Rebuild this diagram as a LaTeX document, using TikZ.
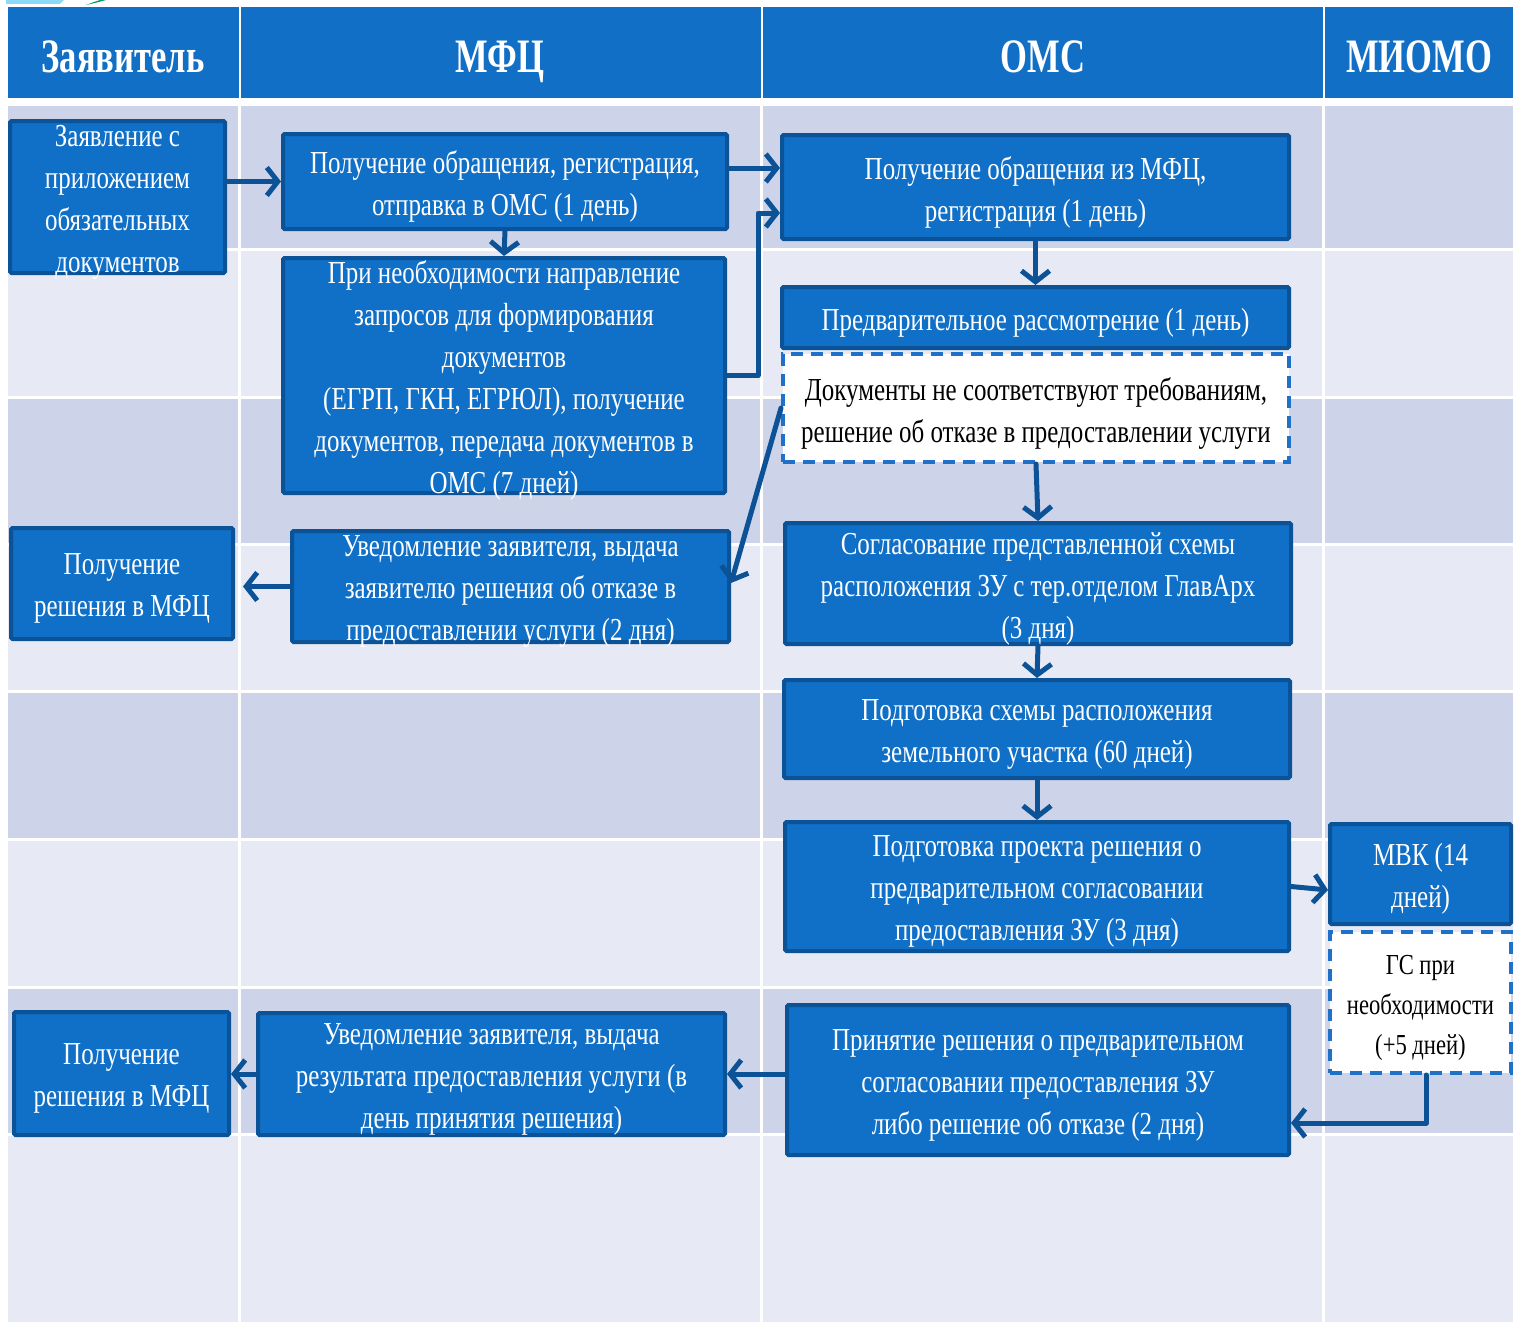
\documentclass[tikz,border=0pt]{standalone}
\usepackage{fontspec}
\setmainfont{Liberation Serif}[FakeStretch=0.78]
\newfontfamily\hdrfont{Liberation Serif}[FakeStretch=0.72]
\usetikzlibrary{arrows.meta}
\definecolor{hdrblue}{RGB}{17,112,198}
\definecolor{boxblue}{RGB}{16,111,199}
\definecolor{boxedge}{RGB}{12,82,150}
\definecolor{dashblue}{RGB}{30,112,200}
\definecolor{banddark}{RGB}{205,212,234}
\definecolor{bandlight}{RGB}{231,234,245}
\tikzset{
  box/.style={draw=boxedge, fill=boxblue, line width=4pt, rounded corners=1.5pt, inner sep=0pt},
  dbox/.style={draw=dashblue, fill=white, line width=4pt, dash pattern=on 12pt off 8pt, inner sep=0pt},
  btext/.style={text=white, align=center, inner sep=0pt, yshift=-5pt, font=\fontsize{32}{42}\selectfont},
  dtext/.style={text=black, align=center, inner sep=0pt, yshift=-5pt, font=\fontsize{32}{42}\selectfont},
  htext/.style={text=white, anchor=base, font=\hdrfont\bfseries\fontsize{48}{52}\selectfont},
  arr/.style={draw=boxedge, line width=5pt, line cap=round, line join=round,
    -{Straight Barb[length=11pt,width=28pt]}},
}
\begin{document}
\begin{tikzpicture}[x=1pt,y=-1pt]
\useasboundingbox (0,0) rectangle (1523,1322);
\fill[white] (0,0) rectangle (1523,1322);
% top-left artifact
\fill[cyan!45!white] (6,0) -- (64,0) -- (60,4) -- (6,4) -- cycle;
\fill[teal!80!green] (86,5) .. controls (95,3) .. (106,0) -- (100,0) .. controls (94,2) .. (86,5) -- cycle;
% header
\foreach \a/\b in {8/238.5,240.5/760.5,762.5/1322.5,1324.5/1513}{
  \fill[hdrblue] (\a,7) rectangle (\b,98);
}
% bands
\foreach \t/\u/\c in {106/249.5/banddark,249.5/397.5/bandlight,397.5/544.5/banddark,544.5/691.5/bandlight,691.5/839.5/banddark,839.5/987.5/bandlight,987.5/1134.5/banddark,1134.5/1322/bandlight}{
  \fill[\c] (8,\t) rectangle (1513,\u);
}
\foreach \y in {249.5,397.5,544.5,691.5,839.5,987.5,1134.5}{
  \draw[white, line width=2.5pt] (8,\y) -- (1513,\y);
}
\foreach \x in {239.5,761.5,1323.5}{
  \draw[white, line width=2.5pt] (\x,106) -- (\x,1322);
}
% header text
\node[htext] (h1) at (123,73) {Заявитель};
\node[htext] (h2) at (500,73) {МФЦ};
\node[htext] (h3) at (1043,73) {ОМС};
\node[htext] (h4) at (1419,73) {МИОМО};

% boxes
\node[box, minimum width=215, minimum height=152] (A) at (117.5,197) {};
\node[box, minimum width=444, minimum height=95] (B) at (505,181.5) {};
\node[box, minimum width=442, minimum height=235] (C) at (504,375.5) {};
\node[box, minimum width=507, minimum height=104] (D) at (1035.5,187) {};
\node[box, minimum width=507, minimum height=61] (E) at (1035.5,317.5) {};
\node[dbox, minimum width=506, minimum height=108] (F) at (1036,408) {};
\node[box, minimum width=506, minimum height=121] (G) at (1038,583.5) {};
\node[box, minimum width=506, minimum height=98] (H) at (1037,729) {};
\node[box, minimum width=504, minimum height=129] (I) at (1037,886.5) {};
\node[box, minimum width=181, minimum height=100] (J) at (1420.5,874) {};
\node[dbox, minimum width=181, minimum height=141] (K) at (1420.5,1002.5) {};
\node[box, minimum width=502, minimum height=150] (L) at (1038,1080) {};
\node[box, minimum width=467, minimum height=122] (M) at (491.5,1074) {};
\node[box, minimum width=215, minimum height=123] (N) at (121.5,1073.5) {};
\node[box, minimum width=437, minimum height=111] (O) at (510.5,586.5) {};
\node[box, minimum width=222, minimum height=111] (P) at (122,583.5) {};

% texts
\node[btext] (tA) at (A) {Заявление с\\приложением\\обязательных\\документов};
\node[btext] (tB) at (B) {Получение обращения, регистрация,\\отправка в ОМС (1 день)};
\node[btext] (tC) at (C) {При необходимости направление\\запросов для формирования\\документов\\(ЕГРП, ГКН, ЕГРЮЛ), получение\\документов, передача документов в\\ОМС (7 дней)};
\node[btext] (tD) at (D) {Получение обращения из МФЦ,\\регистрация (1 день)};
\node[btext] (tE) at (E) {Предварительное рассмотрение (1 день)};
\node[dtext] (tF) at (F) {Документы не соответствуют требованиям,\\решение об отказе в предоставлении услуги};
\node[btext] (tG) at (G) {Согласование представленной схемы\\расположения ЗУ с тер.отделом ГлавАрх\\(3 дня)};
\node[btext] (tH) at (H) {Подготовка схемы расположения\\земельного участка (60 дней)};
\node[btext] (tI) at (I) {Подготовка проекта решения о\\предварительном согласовании\\предоставления ЗУ (3 дня)};
\node[btext] (tJ) at (J) {МВК (14\\дней)};
\node[dtext, font=\fontsize{29}{40}\selectfont] (tK) at (K) {ГС при\\необходимости\\(+5 дней)};
\node[btext] (tL) at (L) {Принятие решения о предварительном\\согласовании предоставления ЗУ\\либо решение об отказе (2 дня)};
\node[btext] (tM) at (M) {Уведомление заявителя, выдача\\результата предоставления услуги (в\\день принятия решения)};
\node[btext] (tN) at (N) {Получение\\решения в МФЦ};
\node[btext] (tO) at (O) {Уведомление заявителя, выдача\\заявителю решения об отказе в\\предоставлении услуги (2 дня)};
\node[btext] (tP) at (P) {Получение\\решения в МФЦ};

% connectors
\draw[arr] (A.east |- B.west) -- (B.west);
\draw[arr] (B.south) -- (C.north);
\coordinate (bd) at ([yshift=13.5pt]B.east);
\draw[arr] (bd) -- (bd -| D.west);
\coordinate (cd) at ([yshift=-26pt]D.west);
\draw[arr] (C.east) -- ++(31,0) |- (cd);
\draw[arr] (D.south) -- (E.north);
\draw[arr] (F.south) -- (G.north);
\draw[arr] (F.west) -- ([yshift=3.5pt]O.east);
\draw[arr] (G.south) -- (H.north);
\draw[arr] (H.south) -- (I.north);
\draw[arr] (I.east) -- ([yshift=-16pt]J.west);
\coordinate (kl) at ([yshift=-43pt]L.east);
\draw[arr] ([xshift=5.5pt]K.south) |- (kl);
\draw[arr] (L.west |- M.east) -- (M.east);
\draw[arr] (M.west) -- (N.east |- M.west);
\draw[arr, shorten >=8pt] (O.west) -- (P.east |- O.west);
\end{tikzpicture}
\end{document}
